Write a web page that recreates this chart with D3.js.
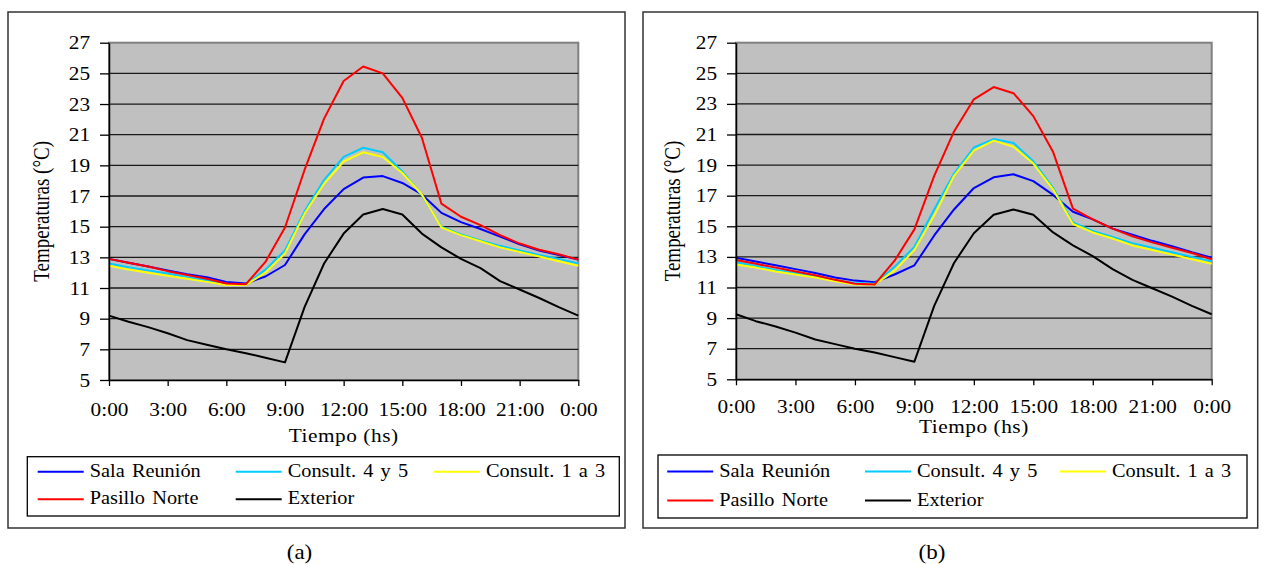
<!DOCTYPE html>
<html>
<head>
<meta charset="utf-8">
<script src="https://cdn.jsdelivr.net/npm/d3@7"></script>
<style>
  body { margin: 0; background: #fff; }
  text { font-family: "Liberation Serif", "Times New Roman", serif; fill: #000; }
</style>
</head>
<body>
<svg id="svg" width="1262" height="564"></svg>
<script>
// hourly samples, 0:00 to 0:00 of the next day
const hours = [0, 1, 2, 3, 4, 5, 6, 7, 8, 9, 10, 11, 12, 13, 14, 15, 16, 17, 18, 19, 20, 21, 22, 23, 24];
const xTickHours = [0, 3, 6, 9, 12, 15, 18, 21, 24];
const xTickLabels = ['0:00', '3:00', '6:00', '9:00', '12:00', '15:00', '18:00', '21:00', '0:00'];
const yTicks = [5, 7, 9, 11, 13, 15, 17, 19, 21, 23, 25, 27];

const seriesNames = ['Sala Reunión', 'Consult. 4 y 5', 'Consult. 1 a 3', 'Pasillo Norte', 'Exterior'];
const seriesColors = ['#0000ff', '#00ccff', '#ffff00', '#ff0000', '#000000'];

// chart (a)
const salaA      = [12.9, 12.65, 12.4, 12.15, 11.9, 11.7, 11.4, 11.3, 11.75, 12.5, 14.5, 16.15, 17.45, 18.2, 18.3, 17.85, 17.1, 15.9, 15.3, 14.85, 14.35, 13.85, 13.45, 13.15, 12.85];
const consult45A = [12.6, 12.35, 12.15, 11.95, 11.7, 11.5, 11.25, 11.25, 12.2, 13.45, 16.0, 18.05, 19.55, 20.15, 19.85, 18.6, 17.05, 15.0, 14.5, 14.1, 13.75, 13.45, 13.15, 12.9, 12.6];
const consult13A = [12.45, 12.2, 12.0, 11.8, 11.6, 11.4, 11.2, 11.2, 12.0, 13.25, 15.85, 17.8, 19.25, 19.85, 19.55, 18.5, 17.1, 14.95, 14.45, 14.05, 13.65, 13.35, 13.05, 12.75, 12.45];
const pasilloA   = [12.9, 12.65, 12.4, 12.1, 11.85, 11.6, 11.3, 11.25, 12.7, 14.95, 18.7, 22.05, 24.5, 25.45, 25.0, 23.4, 20.8, 16.5, 15.65, 15.1, 14.45, 13.9, 13.5, 13.2, 12.85];
const exteriorA  = [9.2, 8.8, 8.45, 8.05, 7.6, 7.3, 7.0, 6.75, 6.45, 6.15, 9.75, 12.6, 14.55, 15.8, 16.15, 15.8, 14.55, 13.65, 12.9, 12.3, 11.45, 10.9, 10.35, 9.75, 9.2];

// chart (b)
const salaB      = [12.95, 12.7, 12.45, 12.2, 11.95, 11.65, 11.45, 11.35, 11.85, 12.45, 14.4, 16.1, 17.5, 18.2, 18.4, 17.95, 17.05, 15.95, 15.45, 14.85, 14.45, 14.05, 13.7, 13.3, 12.95];
const consult45B = [12.65, 12.4, 12.15, 11.95, 11.75, 11.45, 11.3, 11.25, 12.35, 13.65, 16.1, 18.45, 20.15, 20.7, 20.45, 19.25, 17.5, 15.25, 14.7, 14.3, 13.9, 13.6, 13.3, 13.0, 12.7];
const consult13B = [12.5, 12.3, 12.05, 11.85, 11.65, 11.4, 11.2, 11.2, 12.1, 13.45, 15.7, 18.3, 19.95, 20.6, 20.2, 19.1, 17.4, 15.15, 14.6, 14.2, 13.75, 13.45, 13.15, 12.85, 12.55];
const pasilloB   = [12.8, 12.55, 12.3, 12.05, 11.8, 11.5, 11.25, 11.2, 12.75, 14.8, 18.3, 21.2, 23.3, 24.1, 23.7, 22.2, 19.85, 16.15, 15.45, 14.85, 14.35, 13.95, 13.6, 13.25, 12.85];
const exteriorB  = [9.25, 8.8, 8.45, 8.05, 7.6, 7.3, 7.0, 6.75, 6.45, 6.15, 9.8, 12.6, 14.55, 15.75, 16.1, 15.75, 14.6, 13.75, 13.05, 12.2, 11.5, 10.95, 10.4, 9.8, 9.25];

const fontSize = 19;
const stretch = 1.12;     // the source picture is a bit wider than tall

const svg = d3.select('#svg');

const panels = [
  {
    series: [salaA, consult45A, consult13A, pasilloA, exteriorA],
    box: { x: 8, y: 12, w: 617, h: 516 },
    left: 109, right: 578.3, top: 42.7, bottom: 380,
    yTitleX: 49, xTitleY: 441.7, xPad: 17,
    legend: { x: 27.3, y: 456.7, w: 592, h: 59.3, cols: [37.7, 235.7, 434], rows: [471.7, 499.3] },
    caption: { x: 299.5, y: 559, text: '(a)' }
  },
  {
    series: [salaB, consult45B, consult13B, pasilloB, exteriorB],
    box: { x: 643, y: 12, w: 614.7, h: 516 },
    left: 736, right: 1211.7, top: 42.7, bottom: 379.3,
    yTitleX: 680, xTitleY: 432.7, xPad: 14,
    legend: { x: 658, y: 455, w: 589, h: 63, cols: [667.2, 865, 1060], rows: [471.5, 500.5] },
    caption: { x: 932, y: 559, text: '(b)' }
  }
];

function drawPanel(p) {
  const g = svg.append('g');

  g.append('rect')
    .attr('x', p.box.x).attr('y', p.box.y)
    .attr('width', p.box.w).attr('height', p.box.h)
    .attr('fill', '#fff').attr('stroke', '#333').attr('stroke-width', 1.5);

  const xScale = d3.scaleLinear().domain([0, 24]).range([p.left, p.right]);
  const yScale = d3.scaleLinear().domain([5, 27]).range([p.bottom, p.top]);

  g.append('rect')
    .attr('x', p.left).attr('y', p.top)
    .attr('width', p.right - p.left).attr('height', p.bottom - p.top)
    .attr('fill', '#c0c0c0').attr('stroke', '#808080').attr('stroke-width', 2);

  // gridlines
  g.selectAll(null)
    .data(yTicks.slice(1, -1))
    .enter()
    .append('line')
    .attr('x1', p.left).attr('x2', p.right)
    .attr('y1', d => yScale(d)).attr('y2', d => yScale(d))
    .attr('stroke', '#1a1a1a').attr('stroke-width', 1.3);

  const line = d3.line()
    .x((d, i) => xScale(hours[i]))
    .y(d => yScale(d));

  p.series.forEach((s, i) => {
    g.append('path')
      .datum(s)
      .attr('d', line)
      .attr('fill', 'none')
      .attr('stroke', seriesColors[i])
      .attr('stroke-width', 2)
      .attr('stroke-linejoin', 'round');
  });

  const yAxis = d3.axisLeft(yScale).tickValues(yTicks).tickSize(9).tickSizeOuter(0).tickPadding(10);
  const xAxis = d3.axisBottom(xScale).tickValues(xTickHours)
    .tickFormat((d, i) => xTickLabels[i]).tickSize(6).tickSizeOuter(0).tickPadding(p.xPad);

  const yg = g.append('g')
    .attr('transform', 'translate(' + p.left + ',0)')
    .call(yAxis);
  const xg = g.append('g')
    .attr('transform', 'translate(0,' + p.bottom + ')')
    .call(xAxis);

  [yg, xg].forEach(a => {
    a.select('.domain').attr('stroke', '#000').attr('stroke-width', 1.5);
    a.selectAll('.tick line').attr('stroke', '#000').attr('stroke-width', 1.3);
    a.selectAll('text')
      .attr('font-family', '"Liberation Serif", serif')
      .attr('font-size', fontSize)
      .attr('fill', '#000');
  });
  yg.selectAll('text').attr('transform', 'scale(' + stretch + ',1)').attr('x', -19 / stretch);
  xg.selectAll('text').attr('transform', 'scale(' + stretch + ',1)');

  // axis titles
  g.append('text')
    .attr('transform', 'translate(' + p.yTitleX + ',' + (p.top + p.bottom) / 2 + ') scale(1.2,1) rotate(-90)')
    .attr('text-anchor', 'middle')
    .attr('font-size', fontSize)
    .text('Temperaturas (°C)');

  g.append('text')
    .attr('transform', 'translate(' + (p.left + p.right) / 2 + ',' + p.xTitleY + ') scale(' + stretch + ',1)')
    .attr('text-anchor', 'middle')
    .attr('font-size', fontSize)
    .style('letter-spacing', '0.5px')
    .text('Tiempo (hs)');

  // legend
  const lg = p.legend;
  g.append('rect')
    .attr('x', lg.x).attr('y', lg.y)
    .attr('width', lg.w).attr('height', lg.h)
    .attr('fill', '#fff').attr('stroke', '#000').attr('stroke-width', 1.3);

  seriesNames.forEach((name, i) => {
    const cx = lg.cols[i % 3];
    const cy = lg.rows[Math.floor(i / 3)];
    g.append('line')
      .attr('x1', cx).attr('x2', cx + 46)
      .attr('y1', cy).attr('y2', cy)
      .attr('stroke', seriesColors[i]).attr('stroke-width', 2);
    g.append('text')
      .attr('transform', 'translate(' + (cx + 52) + ',' + (cy + 5) + ') scale(1.07,1)')
      .attr('font-size', fontSize)
      .style('word-spacing', '2px')
      .text(name);
  });

  svg.append('text')
    .attr('transform', 'translate(' + p.caption.x + ',' + p.caption.y + ') scale(1.15,1)')
    .attr('text-anchor', 'middle')
    .attr('font-size', 20)
    .text(p.caption.text);
}

panels.forEach(drawPanel);
</script>
</body>
</html>
